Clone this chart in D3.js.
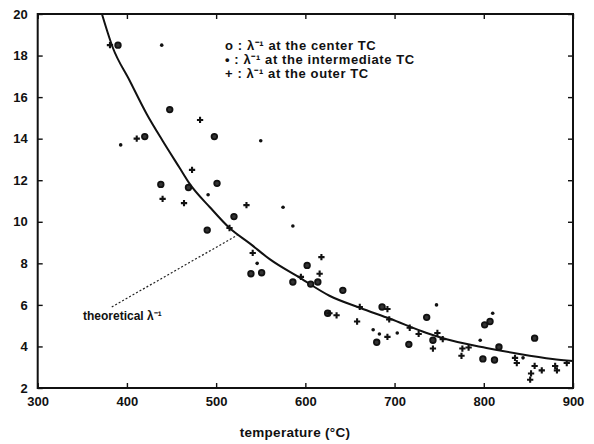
<!DOCTYPE html>
<html>
<head>
<meta charset="utf-8">
<script src="https://cdn.jsdelivr.net/npm/d3@7/dist/d3.min.js"></script>
<style>
  html, body { margin: 0; padding: 0; background: #fff; }
  svg { display: block; }
  text { font-family: "Liberation Sans", Arial, Helvetica, sans-serif; font-weight: bold; fill: #111; }
</style>
</head>
<body>
<svg id="chart" width="594" height="444"></svg>
<script>
// ---- data (temperature °C, λ^-1) ----
const xTicks = [300, 400, 500, 600, 700, 800, 900];
const yTicks = [2, 4, 6, 8, 10, 12, 14, 16, 18, 20];

const theoryT = [372, 384, 403, 422, 440, 459, 470, 493, 515, 538, 560, 594, 627, 661, 695, 736, 765, 803, 840, 877, 900];
const theoryV = [20, 18.4, 16.8, 15.2, 13.9, 12.6, 11.85, 10.7, 9.7, 8.95, 8.2, 7.3, 6.44, 5.86, 5.33, 4.65, 4.27, 3.93, 3.64, 3.4, 3.3];

const centerT = [390, 448, 420, 498, 438, 469, 501, 520, 490, 539, 551, 586, 602, 606, 614, 642, 625, 686, 680, 716, 736, 743, 799, 812, 801, 807, 817, 857];
const centerV = [18.5, 15.4, 14.1, 14.1, 11.8, 11.65, 11.85, 10.25, 9.6, 7.5, 7.55, 7.1, 7.9, 7.0, 7.1, 6.7, 5.6, 5.9, 4.2, 4.1, 5.4, 4.3, 3.4, 3.35, 5.04, 5.2, 3.97, 4.4];

const interT = [439, 393, 550, 575, 586, 546, 491, 676, 683, 703, 747, 796, 810, 844];
const interV = [18.5, 13.7, 13.9, 10.7, 9.8, 8.0, 11.3, 4.8, 4.6, 4.65, 6.0, 4.3, 5.6, 3.45];

const outerT = [381, 411, 482, 473, 440, 464, 534, 515, 541, 595, 616, 618, 627, 635, 661, 658, 692, 694, 692, 717, 727, 748, 743, 754, 776, 775, 783, 835, 837, 857, 853, 852, 865, 880, 882, 893];
const outerV = [18.5, 14.0, 14.9, 12.5, 11.1, 10.9, 10.8, 9.7, 8.5, 7.35, 7.5, 8.3, 5.6, 5.5, 5.9, 5.2, 5.8, 5.3, 4.46, 4.9, 4.6, 4.65, 3.9, 4.35, 3.9, 3.55, 3.95, 3.45, 3.2, 3.06, 2.7, 2.4, 2.85, 3.06, 2.85, 3.2];

const legendLabels = ["o : λ\u207B\u00B9 at the center TC", "\u2022 : λ\u207B\u00B9 at the intermediate TC", "+ : λ\u207B\u00B9 at the outer TC"];
const annotationLabel = "theoretical λ\u207B\u00B9";
const annotationFrom = [383, 5.9];
const annotationTo = [524, 9.36];
const xTitle = "temperature (°C)";

// ---- layout ----
const svg = d3.select("#chart");
const L = 37.7, R = 573, T = 14, B = 388;
const x = d3.scaleLinear().domain([300, 900]).range([L, R]);
const y = d3.scaleLinear().domain([2, 20]).range([B, T]);

const defs = svg.append("defs");
defs.append("clipPath").attr("id", "clip").append("rect")
  .attr("x", L).attr("y", T).attr("width", R - L).attr("height", B - T);

// axes (MATLAB-style inward ticks)
const tickLen = 5;
svg.append("g").attr("transform", `translate(0,${B})`)
  .call(d3.axisBottom(x).tickValues(xTicks).tickSize(-tickLen).tickPadding(9).tickFormat(d3.format("d")))
  .call(g => g.select(".domain").remove())
  .call(g => g.selectAll("text").style("font-size", "13px").attr("dy", "0.71em"));
svg.append("g").attr("transform", `translate(0,${T})`)
  .call(d3.axisTop(x).tickValues(xTicks).tickSize(-tickLen).tickFormat(""))
  .call(g => g.select(".domain").remove());
svg.append("g").attr("transform", `translate(${L},0)`)
  .call(d3.axisLeft(y).tickValues(yTicks).tickSize(-tickLen).tickPadding(10).tickFormat(d3.format("d")))
  .call(g => g.select(".domain").remove())
  .call(g => g.selectAll("text").style("font-size", "13px"));
svg.append("g").attr("transform", `translate(${R},0)`)
  .call(d3.axisRight(y).tickValues(yTicks).tickSize(-tickLen).tickFormat(""))
  .call(g => g.select(".domain").remove());
svg.selectAll(".tick line").attr("stroke", "#111").attr("stroke-width", 1.4);

// frame
svg.append("rect").attr("x", L).attr("y", T).attr("width", R - L).attr("height", B - T)
  .attr("fill", "none").attr("stroke", "#111").attr("stroke-width", 2);

// theoretical curve
const plot = svg.append("g").attr("clip-path", "url(#clip)");
const theory = theoryT.map((t, i) => [t, theoryV[i]]);
plot.append("path").datum(theory)
  .attr("fill", "none").attr("stroke", "#111").attr("stroke-width", 2)
  .attr("d", d3.line().x(d => x(d[0])).y(d => y(d[1])).curve(d3.curveMonotoneX));

// markers
const center = centerT.map((t, i) => [t, centerV[i]]);
const inter = interT.map((t, i) => [t, interV[i]]);
const outer = outerT.map((t, i) => [t, outerV[i]]);

plot.selectAll(".c").data(center).join("circle")
  .attr("cx", d => x(d[0])).attr("cy", d => y(d[1])).attr("r", 2.8)
  .attr("fill", "#333").attr("stroke", "#111").attr("stroke-width", 1.8);
plot.selectAll(".i").data(inter).join("circle")
  .attr("cx", d => x(d[0])).attr("cy", d => y(d[1])).attr("r", 1.8)
  .attr("fill", "#111");
const plus = d3.symbol().type(d3.symbolCross).size(22);
plot.selectAll(".o").data(outer).join("path")
  .attr("transform", d => `translate(${x(d[0])},${y(d[1])})`)
  .attr("d", plus).attr("fill", "#111");

// legend
const lg = svg.append("g").attr("transform", "translate(225,0)");
lg.selectAll("text").data(legendLabels).join("text")
  .attr("x", 0).attr("y", (d, i) => 50 + i * 14)
  .style("font-size", "13px").style("letter-spacing", "0.6px")
  .text(d => d);

// annotation
svg.append("line")
  .attr("x1", x(annotationFrom[0])).attr("y1", y(annotationFrom[1]))
  .attr("x2", x(annotationTo[0])).attr("y2", y(annotationTo[1]))
  .attr("stroke", "#222").attr("stroke-width", 1.2).attr("stroke-dasharray", "2,2");
svg.append("text").attr("x", 83).attr("y", 320)
  .style("font-size", "12px").text(annotationLabel);

// x title
svg.append("text").attr("x", 295).attr("y", 437).attr("text-anchor", "middle")
  .style("font-size", "13.5px").style("letter-spacing", "0.3px").text(xTitle);
</script>
</body>
</html>
